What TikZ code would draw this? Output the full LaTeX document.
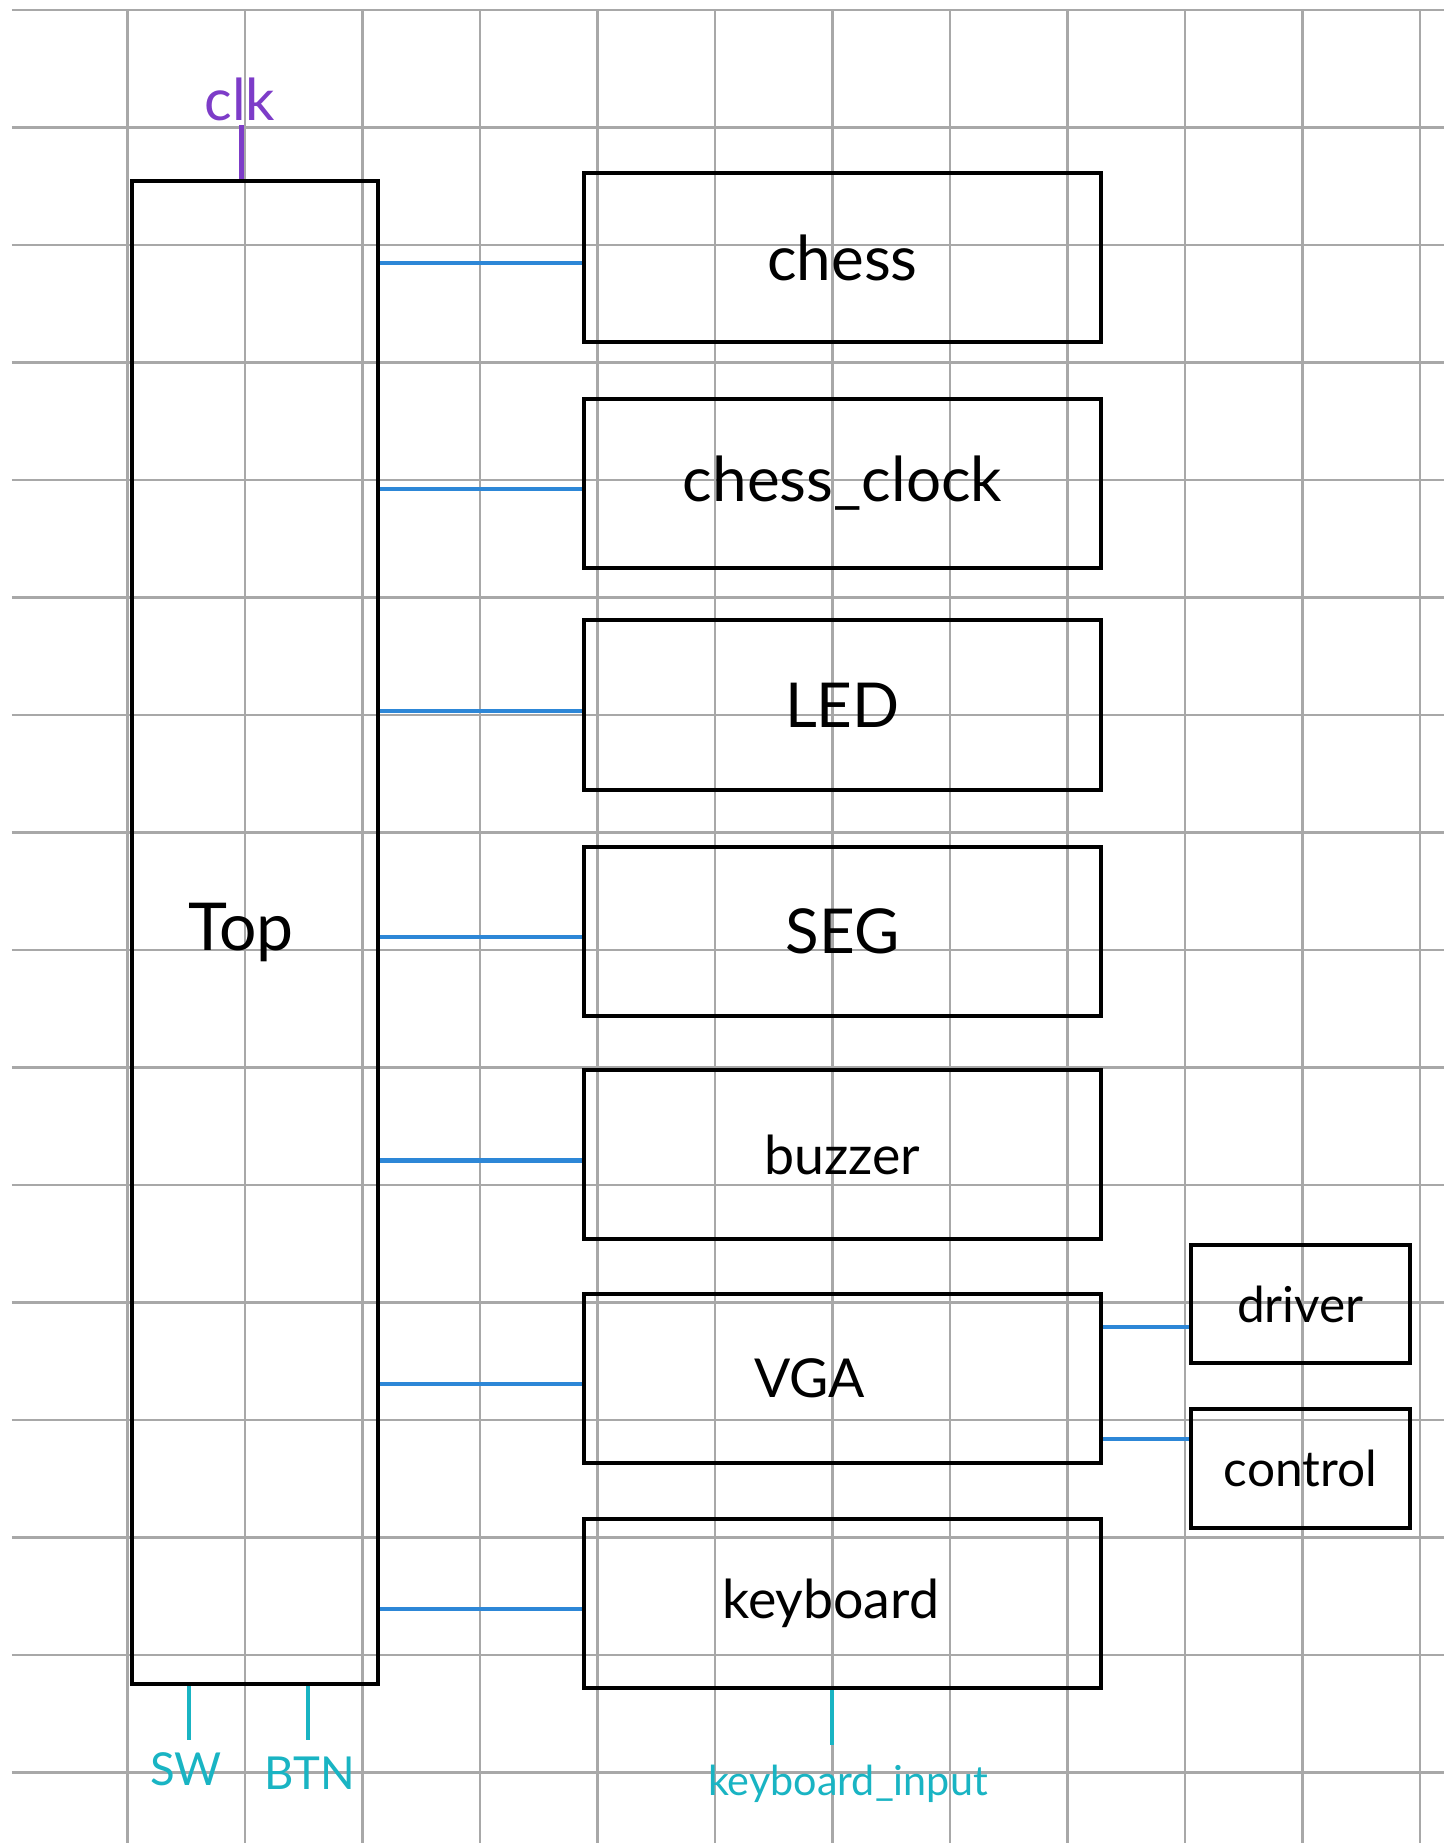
\documentclass[tikz,border=0pt]{standalone}
\usepackage{fontspec}
\setmainfont{Lato}
\definecolor{gridc}{RGB}{168,168,168}
\definecolor{wirec}{RGB}{45,135,215}
\definecolor{pinc}{RGB}{25,180,195}
\definecolor{clkc}{RGB}{125,60,200}
\begin{document}
\begin{tikzpicture}[x=1cm,y=1cm,
  box/.style={draw=black, line width=1pt, inner sep=0pt},
  module/.style={box, minimum width=4.40cm, minimum height=1.44cm, font=\fontsize{15}{18}\selectfont},
  smallmod/.style={module, font=\fontsize{13}{16}\selectfont},
  submod/.style={box, minimum width=1.864cm, minimum height=1.01cm, font=\fontsize{12}{14}\selectfont},
  wire/.style={draw=wirec, line width=1pt},
  pinline/.style={draw=pinc, line width=1pt},
  pintext/.style={text=pinc, inner sep=0pt, font=\fontsize{11}{13}\selectfont},
  clkline/.style={draw=clkc, line width=1pt},
  gridline/.style={draw=gridc, line width=0.6pt}]
\useasboundingbox (0,0) rectangle (12.2894,-15.6851);
\fill[white] (0,0) rectangle (12.2894,-15.6851);
% grid
\foreach \k in {0,...,15} \draw[gridline] (0.1,-0.085-\k) -- (12.2894,-0.085-\k);
\foreach \k in {1,...,12} \draw[gridline] (0.085+\k,-0.085) -- (0.085+\k,-15.6851);
% top module
\node[box, minimum width=2.094cm, minimum height=12.792cm, font=\fontsize{16}{19}\selectfont] (top) at (2.170,-7.936) {\hspace*{-0.24cm}\raisebox{-0.08cm}{Top}};
% sub modules
\node[module] (chess) at (7.170,-2.191) {\raisebox{-0.06cm}{chess}};
\node[module] (clock) at (7.170,-4.115) {\raisebox{-0.04cm}{chess\_clock}};
\node[module] (led) at (7.170,-6.000) {\raisebox{-0.05cm}{LED}};
\node[module] (seg) at (7.170,-7.928) {\raisebox{-0.04cm}{SEG}};
\node[smallmod] (buzzer) at (7.170,-9.826) {\raisebox{-0.06cm}{buzzer}};
\node[smallmod] (vga) at (7.170,-11.732) {\hspace*{-0.56cm}\raisebox{-0.04cm}{VGA}};
\node[smallmod] (keyboard) at (7.170,-13.647) {\hspace*{-0.2cm}\raisebox{-0.04cm}{keyboard}};
\node[submod] (driver) at (11.068,-11.098) {driver};
\node[submod] (control) at (11.068,-12.498) {control};
% wires from top
\foreach \m in {chess,clock,led,seg,buzzer,vga,keyboard}
  \draw[wire] ([yshift=-0.05cm]\m.west -| top.east) -- ([yshift=-0.05cm]\m.west);
% VGA to driver / control
\coordinate (dpin) at ([yshift=-0.196cm]driver.west);
\coordinate (cpin) at ([yshift=0.25cm]control.west);
\draw[wire] (dpin -| vga.east) -- (dpin);
\draw[wire] (cpin -| vga.east) -- (cpin);
% clk
\node[text=clkc, inner sep=0pt, font=\fontsize{14}{16}\selectfont] (clk) at (2.04,-0.85) {clk};
\coordinate (clkpin) at (2.055,-1.064);
\draw[clkline] (clkpin) -- (clkpin |- top.north);
% SW, BTN
\node[pintext] (sw) at (1.583,-15.06) {SW};
\node[pintext] (btn) at (2.638,-15.09) {BTN};
\coordinate (swpin) at (1.609,-14.809);
\coordinate (btnpin) at (2.621,-14.809);
\draw[pinline] (swpin |- top.south) -- (swpin);
\draw[pinline] (btnpin |- top.south) -- (btnpin);
% keyboard input
\node[pintext, font=\fontsize{10}{12}\selectfont] (kin) at (7.217,-15.18) {keyboard\_input};
\coordinate (kinpin) at (7.081,-14.851);
\draw[pinline] (kinpin |- keyboard.south) -- (kinpin);
\end{tikzpicture}
\end{document}
